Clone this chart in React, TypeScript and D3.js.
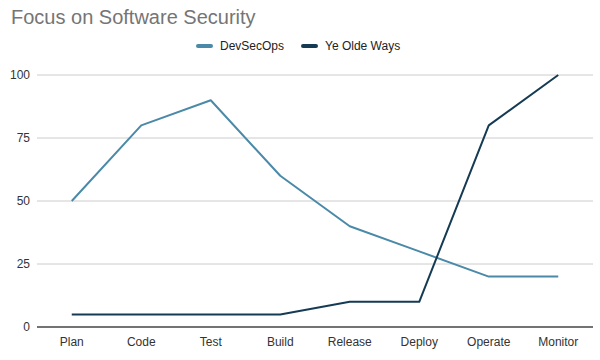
import React from "react";
import * as d3 from "d3";

const categories = ["Plan", "Code", "Test", "Build", "Release", "Deploy", "Operate", "Monitor"];
const devSecOps = [50, 80, 90, 60, 40, 30, 20, 20];
const yeOldeWays = [5, 5, 5, 5, 10, 10, 80, 100];
const yTicks = [0, 25, 50, 75, 100];
const seriesNames = ["DevSecOps", "Ye Olde Ways"];
const seriesColors = ["#4a8aa8", "#153b54"];

const W = 600;
const H = 360;
const left = 37;
const right = 593;
const top = 75;
const bottom = 327;

export default function App() {
  const x = d3.scalePoint<string>().domain(categories).range([left, right]).padding(0.5);
  const y = d3.scaleLinear().domain([0, 100]).range([bottom, top]);
  const line = d3
    .line<number>()
    .x((_, i) => x(categories[i]) as number)
    .y((d) => y(d));
  const series = [devSecOps, yeOldeWays];
  const font = "'Liberation Sans', Arial, sans-serif";
  const legendX = [198, 303];

  return (
    <svg width={W} height={H} style={{ position: "absolute", left: 0, top: 0, background: "#fff" }} fontFamily={font}>
      <text x={11} y={24} fontSize={20} fill="#757575">
        Focus on Software Security
      </text>
      {seriesNames.map((n, i) => (
        <g key={n}>
          <line x1={legendX[i]} x2={legendX[i] + 13} y1={46} y2={46} stroke={seriesColors[i]} strokeWidth={4} strokeLinecap="round" />
          <text x={legendX[i] + 22} y={50} fontSize={12} fill="#222">
            {n}
          </text>
        </g>
      ))}
      {yTicks.map((t) => (
        <g key={t}>
          {t !== 0 && <line x1={left} x2={right} y1={y(t)} y2={y(t)} stroke="#cccccc" strokeWidth={1} />}
          <text x={30} y={y(t) + 4} fontSize={12} fill="#333" textAnchor="end">
            {t}
          </text>
        </g>
      ))}
      {series.map((s, i) => (
        <path key={i} d={line(s) || ""} fill="none" stroke={seriesColors[i]} strokeWidth={2} strokeLinejoin="round" />
      ))}
      <line x1={left} x2={right} y1={y(0)} y2={y(0)} stroke="#444" strokeWidth={1.3} />
      {categories.map((c) => (
        <text key={c} x={x(c)} y={346} fontSize={12} fill="#333" textAnchor="middle">
          {c}
        </text>
      ))}
    </svg>
  );
}
